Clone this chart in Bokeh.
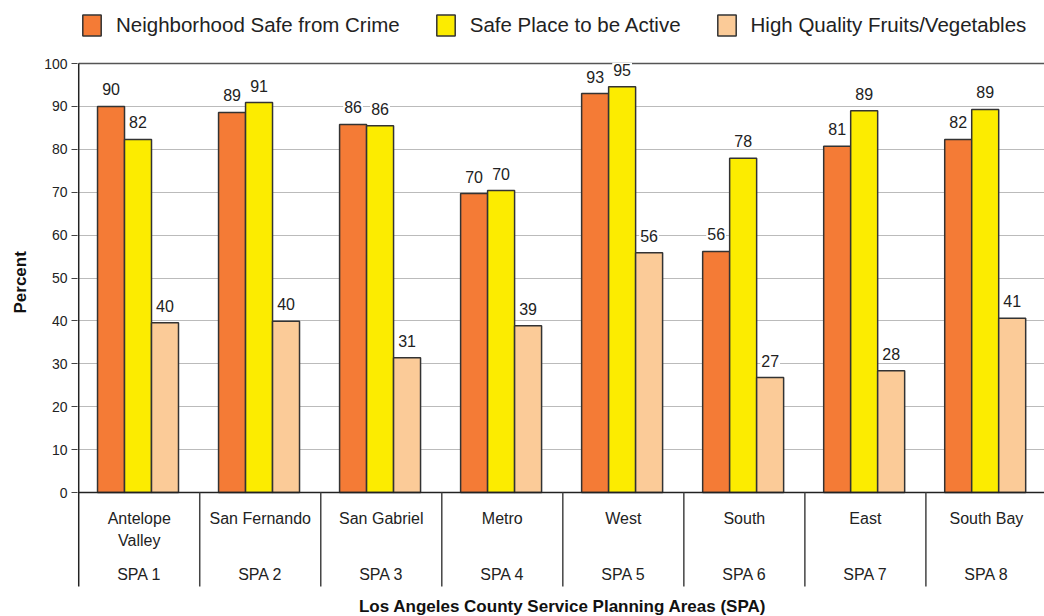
from bokeh.plotting import figure
from bokeh.models import (Range1d, FixedTicker, Title, Legend, LegendItem,
                          ColumnDataSource)
from bokeh.core.properties import value
from bokeh.embed import file_html
from bokeh.resources import INLINE

areas = ["Antelope\nValley", "San Fernando", "San Gabriel", "Metro", "West", "South", "East", "South Bay"]
spas = ["SPA 1", "SPA 2", "SPA 3", "SPA 4", "SPA 5", "SPA 6", "SPA 7", "SPA 8"]
series = ["Neighborhood Safe from Crime", "Safe Place to be Active", "High Quality Fruits/Vegetables"]
crime = [90.0, 88.6, 85.8, 69.7, 93.0, 56.2, 80.7, 82.3]
active = [82.3, 90.9, 85.5, 70.4, 94.6, 77.9, 89.0, 89.3]
fruit = [39.6, 39.9, 31.4, 38.9, 55.9, 26.8, 28.4, 40.6]
colors = ["#F47B36", "#FCEC00", "#FBCB98"]
yticks = list(range(0, 101, 10))
xtitle = "Los Angeles County Service Planning Areas (SPA)"

FONT = "Liberation Sans"
SEP_BOTTOM = -21.9
RANGE_BOTTOM = -28.9
TOP = 114.7
n = len(areas)

p = figure(width=1044, height=616, output_backend="svg", toolbar_location=None,
           x_range=Range1d(-0.01, n - 0.02), y_range=Range1d(RANGE_BOTTOM, TOP),
           min_border_left=77, min_border_right=0, min_border_bottom=0, min_border_top=0)
p.outline_line_color = None
p.background_fill_color = "white"

p.xaxis.visible = False
p.xgrid.visible = False
p.yaxis.ticker = FixedTicker(ticks=yticks)
p.yaxis.major_label_text_font = FONT
p.yaxis.major_label_text_font_size = "14px"
p.yaxis.major_label_text_color = "#222222"
p.yaxis.axis_line_color = None
p.yaxis.major_tick_line_color = "#444444"
p.yaxis.major_tick_out = 6
p.yaxis.major_tick_in = 0
p.yaxis.minor_tick_line_color = None
p.yaxis.major_label_standoff = 4
p.ygrid.grid_line_color = "#BBBBBB"
p.ygrid.grid_line_width = 1

# top border line at 100
p.segment(x0=[0], y0=[yticks[-1]], x1=[n], y1=[yticks[-1]], line_color="#555555", line_width=1.5)

width = 0.223
offsets = [-width, 0.0, width]
renderers = []
for vals, col, off in zip([crime, active, fruit], colors, offsets):
    xs = [i + 0.49 + off for i in range(n)]
    src = ColumnDataSource(dict(x=xs, top=vals, lab=[f"{v:.0f}" for v in vals]))
    r = p.vbar(x="x", top="top", bottom=0, width=width, source=src, fill_color=col,
               line_color="#333333", line_width=1.5)
    renderers.append(r)
    p.text(x="x", y="top", text="lab", source=src, text_align="center", text_baseline="bottom",
           y_offset=-10, text_font=value(FONT), text_font_size="16px", text_color="#222222",
           background_fill_color="white", padding=1)

# zero line
p.segment(x0=[0], y0=[0], x1=[n], y1=[0], line_color="#222222", line_width=1.5)
# left axis line (from bottom of label area up to 100)
p.segment(x0=[0], y0=[SEP_BOTTOM], x1=[0], y1=[yticks[-1]], line_color="#222222", line_width=1.5)

# category separators and labels below zero
bx = list(range(1, n + 1))
p.segment(x0=bx, y0=[0] * n, x1=bx, y1=[SEP_BOTTOM] * n, line_color="#444444", line_width=1.5)
cx = [i + 0.5 for i in range(n)]
p.text(x=cx, y=[0] * n, text=areas, text_align="center", text_baseline="top", y_offset=17,
       text_line_height=1.3, text_font=value(FONT), text_font_size="16px", text_color="#222222")
p.text(x=cx, y=[0] * n, text=spas, text_align="center", text_baseline="middle", y_offset=82,
       text_font=value(FONT), text_font_size="16px", text_color="#222222")

# x-axis title
p.text(x=[n / 2], y=[0], text=[xtitle], text_align="center", text_baseline="middle", y_offset=114,
       text_font=value(FONT), text_font_size="17px", text_font_style="bold", text_color="#111111")

p.add_layout(Title(text="Percent", align="left", offset=303, standoff=19, vertical_align="top",
                   text_font=FONT, text_font_size="17px", text_font_style="bold",
                   text_color="#111111"), "left")

legend = Legend(items=[LegendItem(label=s, renderers=[r]) for s, r in zip(series, renderers)],
                orientation="horizontal", location=(3, 578), margin=0, padding=0,
                glyph_width=23, glyph_height=26, label_standoff=13, spacing=34,
                label_text_font=FONT, label_text_font_size="20.5px", label_text_color="#222222",
                border_line_color=None, background_fill_alpha=0)
p.add_layout(legend)

open("out.html", "w").write(file_html(p, INLINE))
